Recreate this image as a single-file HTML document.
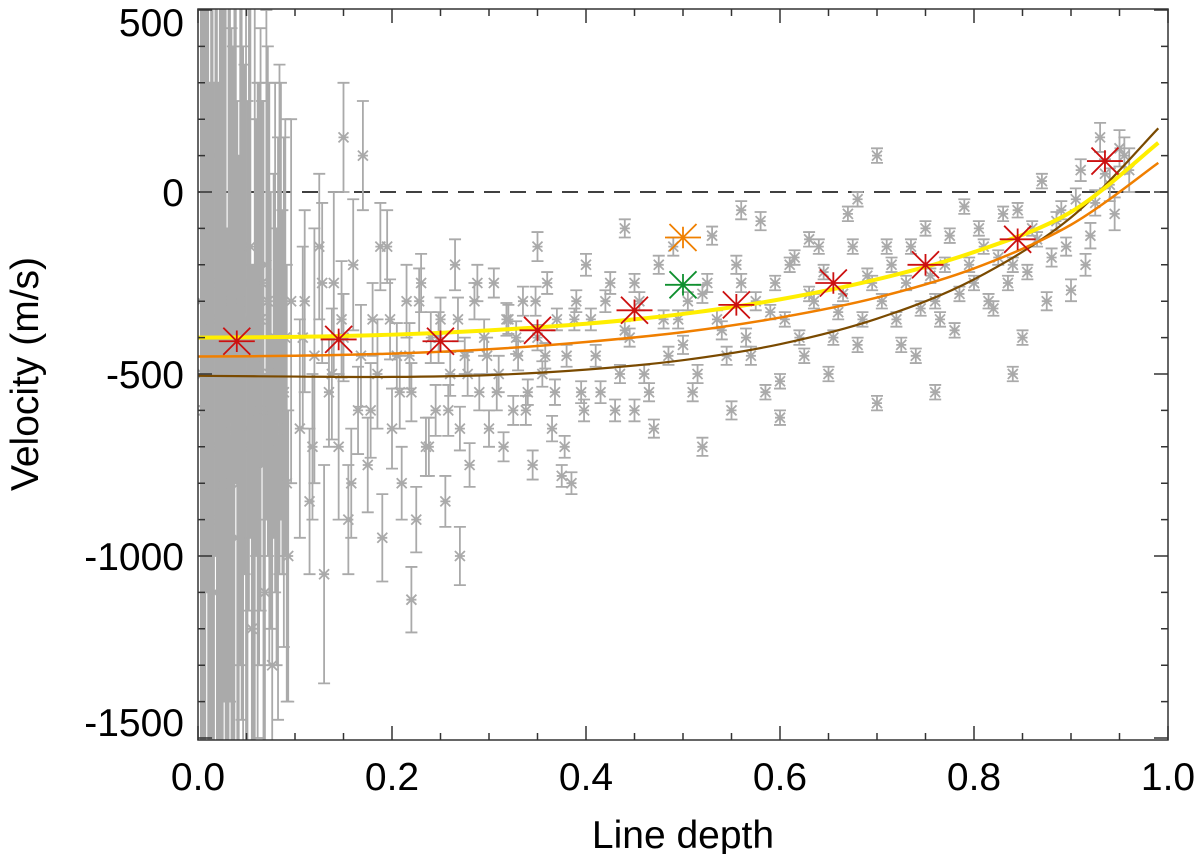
<!DOCTYPE html>
<html><head><meta charset="utf-8"><style>
html,body{margin:0;background:#fff;overflow:hidden;width:1200px;height:854px}
svg{display:block}
svg text{font-family:"Liberation Sans",sans-serif;fill:#000}
</style></head><body>
<svg id="c" width="1200" height="854" xmlns="http://www.w3.org/2000/svg">
<defs><clipPath id="pc"><rect x="198" y="9" width="970" height="731"/></clipPath></defs>
<g id="plot" clip-path="url(#pc)"></g>
<g id="axes"></g>
</svg>
<script>
const depth=[0.003,0.006,0.009,0.012,0.015,0.018,0.021,0.024,0.027,0.030,0.033,0.036,0.039,0.042,0.045,0.048,0.051,0.054,0.057,0.060,0.063,0.066,0.069,0.072,0.075,0.078,0.081,0.084,0.087,0.090,0.093,0.096,
0.0045,0.0075,0.0105,0.0135,0.0165,0.0195,0.0225,0.0255,0.0285,0.0315,0.0345,0.0375,0.0405,0.0435,0.0465,0.0495,0.0525,0.0555,0.0585,0.0615,0.0645,0.0675,0.0705,0.0735,0.0765,0.0795,0.0825,0.0855,0.0885,0.0915,
0.105,0.11,0.115,0.12,0.125,0.13,0.135,0.14,0.145,0.15,0.155,0.16,0.165,0.17,0.175,0.18,0.185,0.19,0.195,0.2,0.205,0.21,0.215,0.22,0.225,0.23,0.235,0.24,0.245,0.25,0.255,0.26,0.265,0.27,0.275,0.28,0.285,0.29,0.295,0.3,0.305,0.31,0.315,0.32,0.325,0.33,0.335,0.34,0.345,0.35,0.355,0.36,0.365,0.37,0.375,0.38,0.385,0.39,0.395,0.4,
0.41,0.42,0.43,0.44,0.45,0.46,0.47,0.48,0.49,0.5,0.51,0.52,0.53,0.54,0.55,0.56,0.57,0.58,0.59,0.6,0.61,0.62,0.63,0.64,0.65,0.66,0.67,0.68,0.69,0.7,0.71,0.72,0.73,0.74,0.75,0.76,0.77,0.78,0.79,0.8,0.81,0.82,0.83,0.84,0.85,0.86,0.87,0.88,0.89,0.9,0.91,0.92,0.93,0.94,0.95,0.96,
0.27,0.68,0.7,0.84,0.6,0.52,0.45,0.35,0.22,0.15,0.56,0.76,0.44,0.63,
0.108,0.118,0.128,0.138,0.148,0.158,0.168,0.178,0.188,0.198,0.208,0.218,0.228,0.238,0.248,0.258,0.268,0.278,0.288,0.298,0.308,0.318,0.328,0.338,0.348,0.358,0.368,0.378,0.388,0.398,
0.405,0.415,0.425,0.435,0.445,0.455,0.465,0.475,0.485,0.495,0.505,0.515,0.525,0.535,0.545,0.555,0.565,0.575,0.585,0.595,0.605,0.615,0.625,0.635,0.645,0.655,0.665,0.675,0.685,0.695,
0.705,0.715,0.725,0.735,0.745,0.755,0.765,0.775,0.785,0.795,0.805,0.815,0.825,0.835,0.845,0.855,0.865,0.875,0.885,0.895,0.905,0.915,0.925,0.935,0.945,0.955];
const velocity=[-300,-600,200,-900,-400,100,-700,-500,-200,-1000,-300,-600,0,-800,-450,-350,-650,-150,-900,-400,-500,-250,-1100,-300,-600,-450,-700,-350,-550,-400,-1000,-300,
-500,-200,-700,-350,-1100,-450,-250,-800,-550,-150,-650,-400,-950,-300,-700,-500,-250,-1200,-450,-600,-350,-750,-200,-500,-1300,-400,-650,-300,-550,-800,
-650,-300,-850,-450,-150,-1050,-550,-250,-700,-400,-900,-200,-600,100,-750,-350,-500,-950,-150,-650,-450,-800,-300,-550,-900,-250,-700,-400,-600,-350,-850,-500,-200,-650,-450,-750,-300,-550,-400,-650,-250,-500,-700,-350,-600,-450,-300,-550,-750,-400,-500,-250,-650,-350,-780,-450,-800,-300,-550,-200,
-450,-300,-600,-380,-250,-500,-650,-350,-150,-420,-550,-280,-120,-380,-600,-250,-450,-80,-330,-520,-200,-400,-280,-150,-500,-330,-60,-420,-230,-580,-150,-350,-250,-450,-100,-300,-200,-380,-40,-250,-150,-320,-60,-200,-400,-100,30,-180,-50,-270,60,-120,150,20,120,60,
-1000,-20,100,-500,-620,-700,-600,-150,-1120,150,-50,-550,-100,-130,
-400,-700,-250,-500,-350,-800,-450,-600,-150,-350,-550,-450,-300,-700,-400,-600,-350,-500,-250,-450,-550,-350,-400,-600,-300,-450,-550,-700,-350,-600,
-350,-550,-250,-500,-400,-300,-550,-200,-450,-350,-300,-500,-250,-350,-450,-200,-400,-300,-550,-250,-350,-180,-450,-300,-220,-400,-280,-150,-350,-250,
-300,-200,-420,-150,-320,-230,-350,-120,-280,-200,-100,-300,-180,-250,-50,-220,-130,-300,-80,-150,-20,-200,-30,50,-60,100];
const errs=[1500,1400,1300,1200,1500,1100,1000,1300,1200,900,1100,1000,800,900,1000,700,900,800,700,600,800,500,600,700,600,500,600,700,500,600,400,500,
1800,1600,1500,1700,1400,1500,1300,1600,1200,1400,1100,1300,1200,1000,1100,1200,900,1000,1100,900,800,1000,700,800,900,700,800,600,700,600,
300,250,200,350,200,300,150,250,200,120,150,180,120,150,130,100,150,120,100,110,90,100,100,80,90,80,80,70,70,60,70,60,70,60,50,60,50,50,50,50,40,50,40,40,40,40,40,35,40,35,35,30,35,30,30,30,30,30,30,30,
30,30,30,25,25,25,25,25,25,25,25,25,25,25,25,25,25,25,20,20,20,20,20,20,20,20,20,20,20,20,20,20,20,20,20,20,20,20,20,20,20,20,20,20,20,20,20,25,25,30,30,35,40,45,50,60,
80,20,20,20,20,25,30,40,90,150,25,20,25,20,
250,200,220,180,160,150,140,130,120,110,100,90,90,80,70,70,60,60,50,50,50,45,45,40,40,35,35,30,30,30,
30,30,30,25,25,25,25,25,25,25,25,25,25,25,25,25,25,25,20,20,20,20,20,20,20,20,20,20,20,20,
20,20,20,20,20,20,20,20,20,20,20,20,20,20,20,20,20,25,25,25,30,30,35,40,45,50];
const binDepth=[0.04,0.145,0.25,0.35,0.45,0.555,0.655,0.75,0.845,0.935];
const binVel=[-410,-405,-410,-380,-325,-310,-250,-200,-130,85];
const orangePt=[0.5,-125];
const greenPt=[0.5,-255];
const fitX=[0,0.1,0.2,0.3,0.4,0.5,0.6,0.7,0.8,0.9,0.99];
const fitYellow=[-400,-398,-392,-380,-362,-335,-295,-240,-165,-55,135];
const fitOrange=[-452,-450,-444,-432,-412,-385,-345,-290,-210,-90,80];
const fitBrown=[-505,-507,-508,-503,-488,-462,-418,-348,-240,-70,175];
const xTicks=["0.0","0.2","0.4","0.6","0.8","1.0"];
const yTicks=["500","0","-500","-1000","-1500"];

const NS="http://www.w3.org/2000/svg";
const X=v=>198+v*970;
const Y=v=>192-v*182/500;
const plot=document.getElementById('plot'),axes=document.getElementById('axes');
function mk(t,a,p){const e=document.createElementNS(NS,t);for(const k in a)e.setAttribute(k,a[k]);p.appendChild(e);return e;}

const z=mk('line',{x1:198,x2:1168,y1:Y(0),y2:Y(0),stroke:'#000','stroke-width':1.5,'stroke-dasharray':'16,10'},plot);



const gs=mk('g',{stroke:'#aaa','stroke-width':1.8,fill:'none'},plot);


for(let i=0;i<depth.length;i++){
 const x=X(depth[i]),y=Y(velocity[i]),y1=Y(velocity[i]+errs[i]),y2=Y(velocity[i]-errs[i]);
 const g=mk('path',{d:`M${x},${y1}V${y2}M${x-6},${y1}h12M${x-6},${y2}h12M${x-5},${y-5}l10,10M${x-5},${y+5}l10,-10M${x-5},${y}h10M${x},${y-5}v10`},gs);
 
 
}
function curve(ys,col,w,name){
 let d='';
 for(let i=0;i<fitX.length;i++){
  const p=[X(fitX[i]),Y(ys[i])];
  if(i==0){d='M'+p;continue;}
  const p0=[X(fitX[Math.max(0,i-2)]),Y(ys[Math.max(0,i-2)])],p1=[X(fitX[i-1]),Y(ys[i-1])],p3=[X(fitX[Math.min(fitX.length-1,i+1)]),Y(ys[Math.min(fitX.length-1,i+1)])];
  const c1=[p1[0]+(p[0]-p0[0])/6,p1[1]+(p[1]-p0[1])/6],c2=[p[0]-(p3[0]-p1[0])/6,p[1]-(p3[1]-p1[1])/6];
  d+=`C${c1} ${c2} ${p}`;
 }
 const e=mk('path',{d,stroke:col,'stroke-width':w,fill:'none'},plot);
 
 
}
curve(fitBrown,'#7a4a00',2.2,'fit-brown');
curve(fitOrange,'#f07f00',2.5,'fit-orange');
curve(fitYellow,'#ffee00',4,'fit-yellow');
function star(x,y,col,r,name){
 const e=mk('path',{d:`M${x-r},${y}h${2*r}M${x-r*0.75},${y-r*0.75}l${1.5*r},${1.5*r}M${x-r*0.75},${y+r*0.75}l${1.5*r},${-1.5*r}M${x},${y-r*0.6}v${1.2*r}`,stroke:col,'stroke-width':1.8,fill:'none'},plot);
 
 
}
for(let i=0;i<binDepth.length;i++)star(X(binDepth[i]),Y(binVel[i]),'#cc1010',18,'binned-point');
star(X(orangePt[0]),Y(orangePt[1]),'#f08000',18,'orange-point');
star(X(greenPt[0]),Y(greenPt[1]),'#109030',18,'green-point');

const fr=mk('rect',{x:198,y:9,width:970,height:731,fill:'none',stroke:'#333','stroke-width':1.5},axes);


let td='';
for(let k=0;k<=20;k++){const x=X(k*0.05),L=k%4==0?14:7;td+=`M${x},740v${-L}M${x},9v${L}`;}
for(let v=-1500;v<=500;v+=100){const y=Y(v),L=v%500==0?14:7;td+=`M198,${y}h${L}M1168,${y}h${-L}`;}
const tk=mk('path',{d:td,stroke:'#333','stroke-width':1.5},axes);


xTicks.forEach((t,i)=>{const e=mk('text',{x:X(i*0.2),y:790,'font-size':39,'text-anchor':'middle'},axes);e.textContent=t;
 
 });
yTicks.forEach((t,i)=>{let y=Y(500-i*500)+14;if(i==0)y=36;if(i==4)y=736;const e=mk('text',{x:184,y,'font-size':39,'text-anchor':'end'},axes);e.textContent=t;
 
 });
const xt=mk('text',{x:683,y:848,'font-size':39,'text-anchor':'middle'},axes);xt.textContent='Line depth';


const yt=mk('text',{x:0,y:0,'font-size':39,'text-anchor':'middle',transform:'translate(38,374) rotate(-90)'},axes);yt.textContent='Velocity (m/s)';


</script>
</body></html>
